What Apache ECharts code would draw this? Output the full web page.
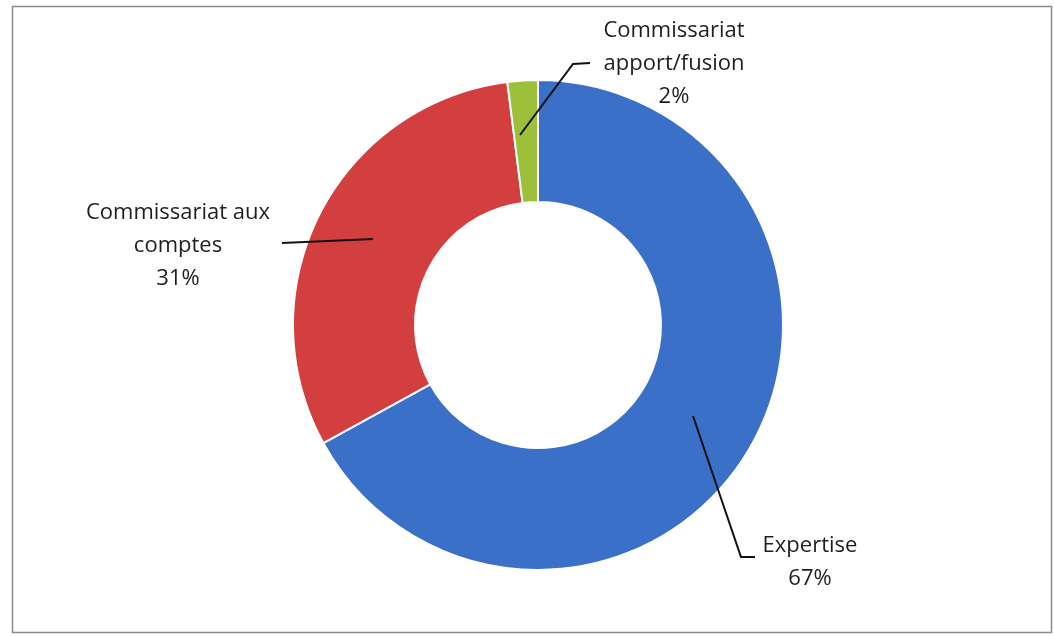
<!DOCTYPE html>
<html>
<head>
<meta charset="utf-8">
<script src="https://cdn.jsdelivr.net/npm/echarts@6/dist/echarts.min.js"></script>
<style>
html,body{margin:0;padding:0;background:#fff;}
#chart{width:1054px;height:636px;}
</style>
</head>
<body>
<div id="chart"></div>
<script>
// Data
const categories = ['Expertise', 'Commissariat aux\ncomptes', 'Commissariat\napport/fusion'];
const values = [67, 31, 2];
const colors = ['#3a70c7', '#d33f3f', '#9dc03b'];

// label placement (layout only)
const labelPos = [
  { x: 810, y: 562, line: [[693, 416], [741, 557], [755, 557]] },
  { x: 178, y: 246, line: [[373, 239], [282, 243]] },
  { x: 674, y: 64, line: [[520, 135], [573, 64], [590, 63]] }
];

const common = {
  type: 'pie',
  center: [538, 325],
  radius: [123, 245],
  startAngle: 90,
  clockwise: true,
  avoidLabelOverlap: false,
  silent: true
};

const chart = echarts.init(document.getElementById('chart'));
chart.setOption({
  animation: false,
  backgroundColor: '#fff',
  graphic: [{
    type: 'rect',
    shape: { x: 12.5, y: 6.5, width: 1039, height: 626 },
    style: { fill: 'none', stroke: '#8a8a8a', lineWidth: 1.5 }
  }],
  series: [
    Object.assign({}, common, {
      z: 2,
      itemStyle: { borderColor: '#fff', borderWidth: 2 },
      label: { show: false },
      labelLine: { show: false },
      data: categories.map((c, i) => ({ name: c, value: values[i], itemStyle: { color: colors[i] } }))
    }),
    Object.assign({}, common, {
      z: 5,
      itemStyle: { color: 'rgba(0,0,0,0)', borderWidth: 0 },
      label: {
        show: true,
        position: 'outside',
        fontFamily: 'Open Sans',
        fontSize: 22,
        lineHeight: 33,
        color: '#1e1e1e',
        align: 'center',
        formatter: p => p.name + '\n' + Math.round(p.percent) + '%'
      },
      labelLine: { show: true, lineStyle: { color: '#111', width: 2 } },
      labelLayout: function (params) {
        const lp = labelPos[params.dataIndex];
        return {
          x: lp.x,
          y: lp.y,
          align: 'center',
          verticalAlign: 'middle',
          labelLinePoints: lp.line
        };
      },
      data: categories.map((c, i) => ({ name: c, value: values[i] }))
    })
  ]
});
</script>
</body>
</html>
